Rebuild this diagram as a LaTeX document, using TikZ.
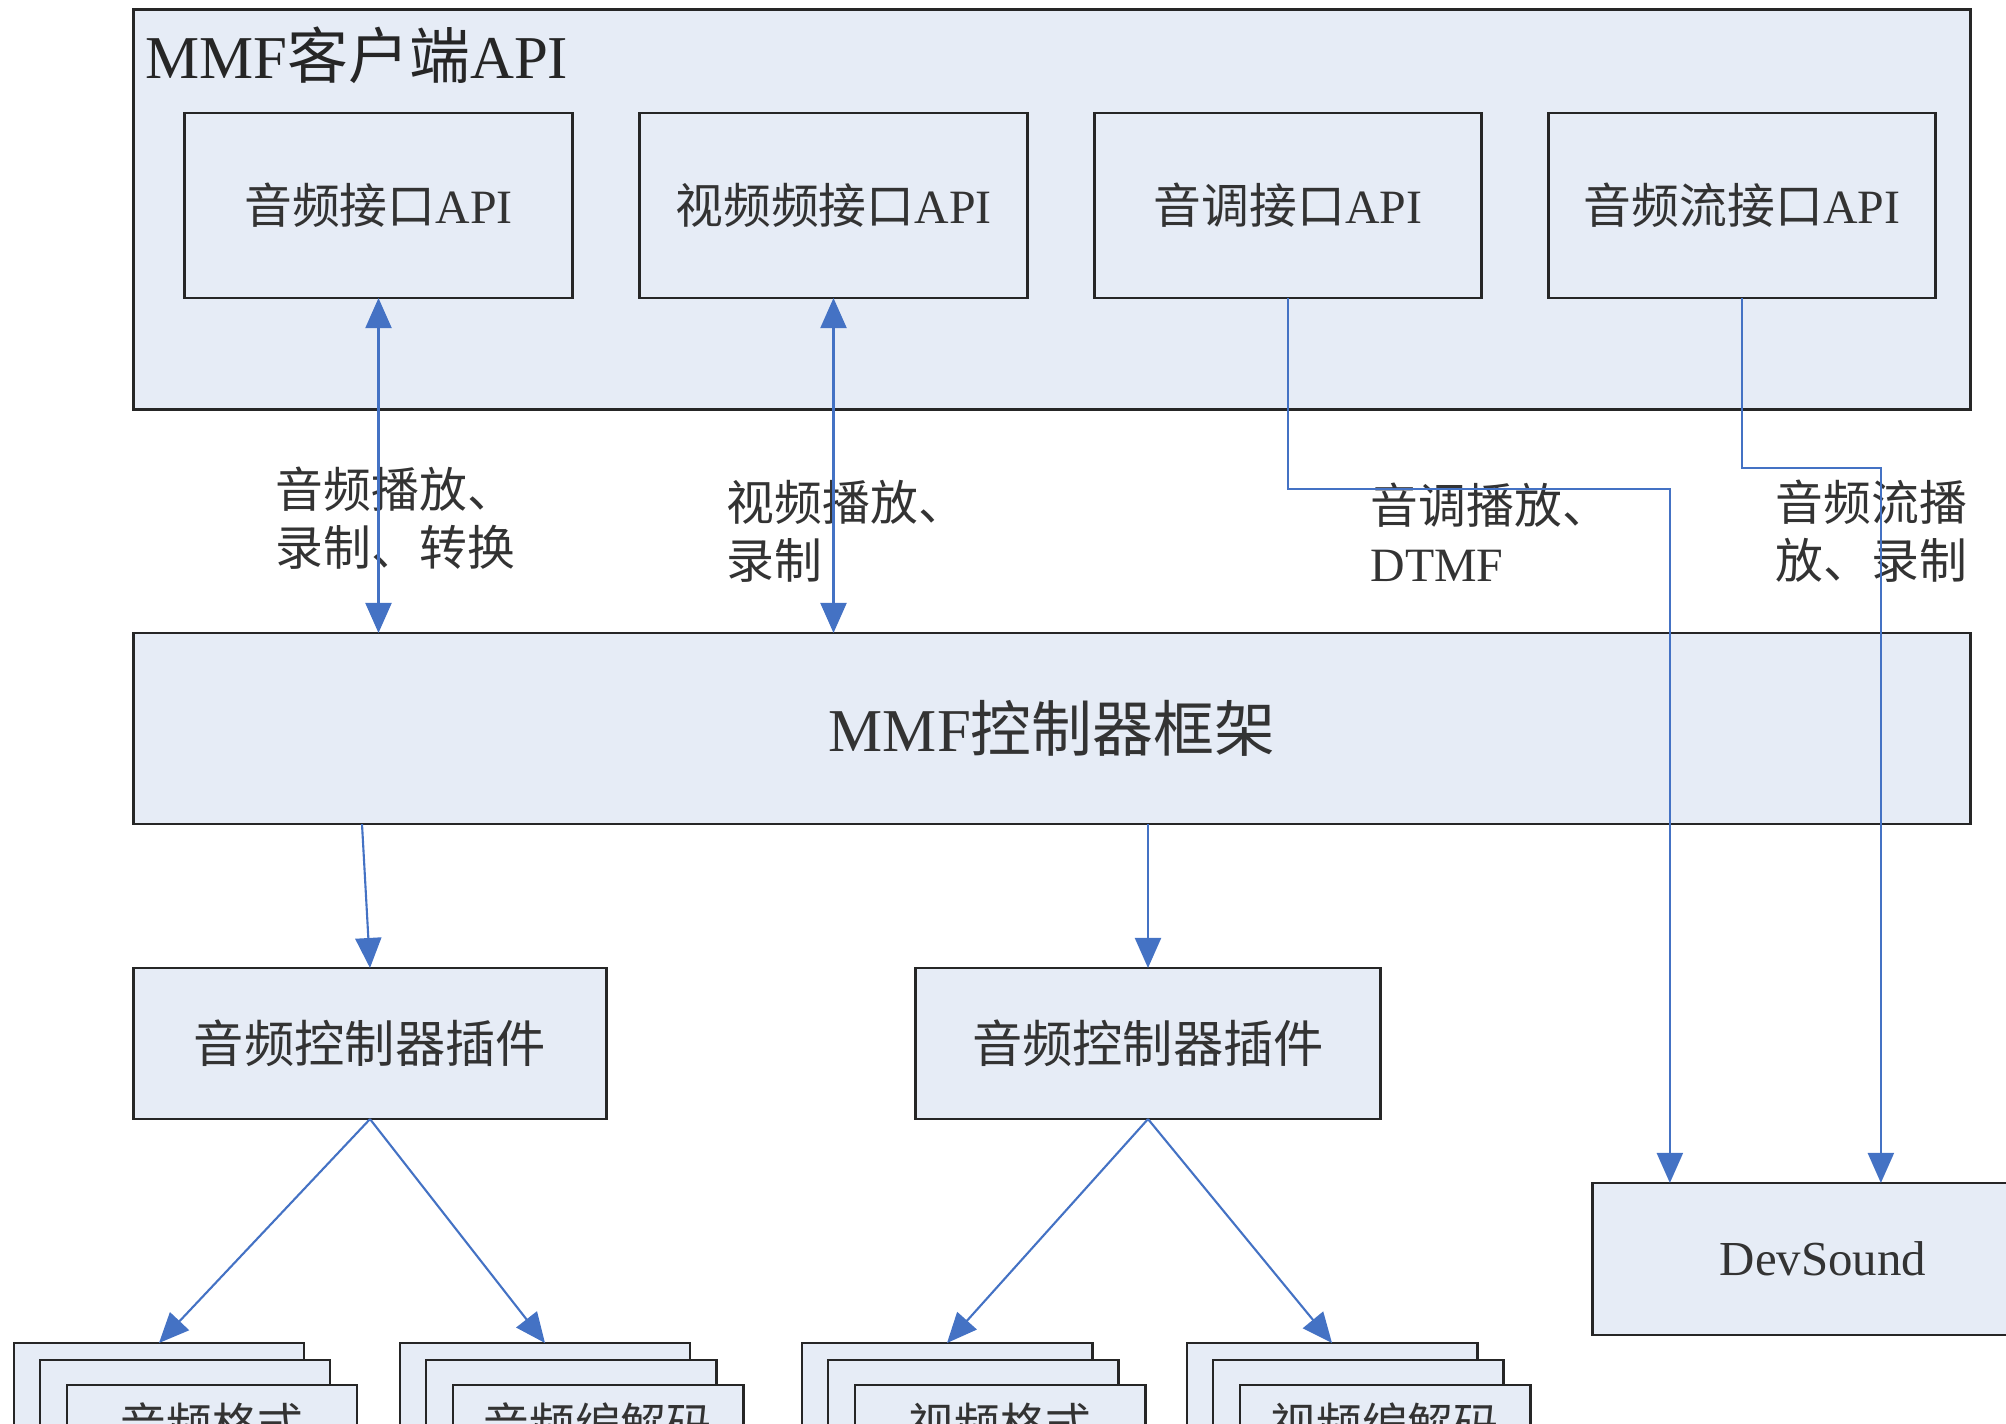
\documentclass[tikz,border=0pt]{standalone}
\usepackage{fontspec}
\setmainfont{Liberation Serif}
\newfontfamily\cjk{Noto Sans CJK SC}
\newcommand{\zh}[1]{{\cjk #1}}
\usetikzlibrary{calc,arrows.meta}
\definecolor{boxfill}{RGB}{230,236,246}
\definecolor{flowblue}{RGB}{68,114,196}

\begin{document}
\begin{tikzpicture}[x=0.01cm,y=-0.01cm,
    >={Triangle[length=0.3cm,width=0.26cm]},
    box/.style={draw=black!85,line width=0.8pt,fill=boxfill,inner sep=0pt,outer sep=0pt,text=black!80},
    apibox/.style={box,minimum width=3.87cm,minimum height=1.85cm,font=\fontsize{13.6}{16}\selectfont},
    plugbox/.style={box,minimum height=1.51cm,font=\cjk\fontsize{14.3}{17}\selectfont},
    stackbox/.style={box,minimum width=2.9cm,minimum height=1cm,font=\cjk\fontsize{13}{15}\selectfont},
    flow/.style={draw=flowblue,line width=0.6pt,->},
    lbl/.style={align=left,anchor=west,inner sep=0pt,text=black!80,font=\fontsize{13.6}{16.5}\selectfont}]
\useasboundingbox (0,0) rectangle (2006,1423);
\clip (0,0) rectangle (2006,1423);

% client API
\node[box,minimum width=18.36cm,minimum height=3.99cm] (client) at (1052,209.5) {};
\node[anchor=west,inner sep=0pt,text=black!85,font=\fontsize{17.3}{20}\selectfont] (title) at (145,55) {MMF\zh{客户端}API};
\node[apibox] (api1) at (378.5,205.5) {\zh{音频接口}API};
\node[apibox] (api2) at (833.5,205.5) {\zh{视频频接口}API};
\node[apibox] (api3) at (1288,205.5) {\zh{音调接口}API};
\node[apibox] (api4) at (1742,205.5) {\zh{音频流接口}API};

% controller framework
\node[box,minimum width=18.36cm,minimum height=1.91cm,font=\fontsize{17.3}{20}\selectfont] (frame) at (1052,728.5) {MMF\zh{控制器框架}};
\node[plugbox,minimum width=4.72cm] (plug1) at (370,1043.5) {音频控制器插件};
\node[plugbox,minimum width=4.64cm] (plug2) at (1148,1043.5) {音频控制器插件};
\node[box,minimum width=4.6cm,minimum height=1.52cm,font=\fontsize{13.9}{16}\selectfont] (dev) at (1823,1259) {DevSound};

% plugin stacks
\foreach \n/\x/\t in {a/14/音频格式,b/400/音频编解码,c/802/视频格式,d/1187/视频编解码}{
  \node[stackbox] (\n1) at (\x+145,1393) {};
  \node[stackbox] (\n2) at (\x+171,1410) {};
  \node[stackbox,minimum height=0.78cm] (\n3) at (\x+198,1424) {\t};
}

% labels
\node[lbl] (l1) at (275,518) {\zh{音频播放、}\\\zh{录制、转换}};
\node[lbl] (l2) at (726,531) {\zh{视频播放、}\\\zh{录制}};
\node[lbl] (l3) at (1370,532) {\zh{音调播放、}\\DTMF};
\node[lbl] (l4) at (1775,531) {\zh{音频流播}\\\zh{放、录制}};

% connectors
\draw[flow,<->] (api1.south) -- (api1.south |- frame.north);
\draw[flow,<->] (api2.south) -- (api2.south |- frame.north);
\coordinate (t1) at ($(dev.north west)+(77,0)$);
\coordinate (t2) at ($(dev.north west)+(288,0)$);
\draw[flow] (api3.south) -- ++(0,191) -| (t1);
\draw[flow] (api4.south) -- ++(0,170) -| (t2);
\draw[flow] ($(plug1.north |- frame.south)+(-8,0)$) -- (plug1.north);
\draw[flow] (plug2.north |- frame.south) -- (plug2.north);
\draw[flow] (plug1.south) -- (a1.north);
\draw[flow] (plug1.south) -- (b1.north);
\draw[flow] (plug2.south) -- (c1.north);
\draw[flow] (plug2.south) -- (d1.north);
\end{tikzpicture}
\end{document}
